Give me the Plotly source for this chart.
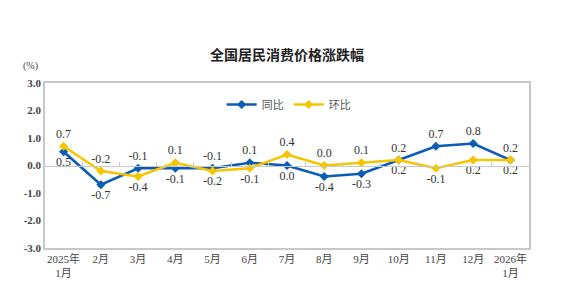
import plotly.graph_objects as go

categories = ["2025年<br>1月", "2月", "3月", "4月", "5月", "6月", "7月", "8月", "9月", "10月", "11月", "12月", "2026年<br>1月"]
yoy = [0.5, -0.7, -0.1, -0.1, -0.1, 0.1, 0.0, -0.4, -0.3, 0.2, 0.7, 0.8, 0.2]
mom = [0.7, -0.2, -0.4, 0.1, -0.2, -0.1, 0.4, 0.0, 0.1, 0.2, -0.1, 0.2, 0.2]
yticks = [3.0, 2.0, 1.0, 0.0, -1.0, -2.0, -3.0]

x = list(range(len(categories)))

def positions(a, b, a_wins_tie):
    out = []
    for va, vb in zip(a, b):
        if va > vb or (va == vb and a_wins_tie):
            out.append("top center")
        else:
            out.append("bottom center")
    return out

# Oct tie: yellow on top; Jan 2026 tie: blue on top
yoy_pos = positions(yoy, mom, False)
mom_pos = positions(mom, yoy, True)
yoy_pos[-1] = "top center"
mom_pos[-1] = "bottom center"

BLUE = "#0a5cb4"
YEL = "#f5c600"
TXT = "#333333"
SERIF = "Liberation Serif, Times New Roman, Noto Sans CJK SC, serif"

fig = go.Figure()
fig.add_trace(go.Scatter(
    x=x, y=yoy, name="同比", mode="lines+markers+text",
    line=dict(color=BLUE, width=2.6),
    marker=dict(symbol="diamond", size=7, color=BLUE),
    text=[f"{v:.1f}" for v in yoy], textposition=yoy_pos,
    textfont=dict(family=SERIF, size=12, color=TXT),
    cliponaxis=False,
))
fig.add_trace(go.Scatter(
    x=x, y=mom, name="环比", mode="lines+markers+text",
    line=dict(color=YEL, width=2.6),
    marker=dict(symbol="diamond", size=7, color=YEL),
    text=[f"{v:.1f}" for v in mom], textposition=mom_pos,
    textfont=dict(family=SERIF, size=12, color=TXT),
    cliponaxis=False,
))

fig.update_layout(
    width=574, height=303,
    margin=dict(l=45, r=45, t=83, b=55),
    paper_bgcolor="white", plot_bgcolor="white",
    showlegend=True,
    legend=dict(orientation="h", x=0.365, y=0.87, xanchor="left", yanchor="middle",
                font=dict(family="Noto Sans CJK SC", size=11, color="#555555"),
                bgcolor="rgba(0,0,0,0)", itemwidth=30, tracegroupgap=0),
    title=dict(text="<b>全国居民消费价格涨跌幅</b>", x=0.5, xanchor="center", y=1 - 55 / 303, yanchor="middle",
               font=dict(family="Noto Sans CJK SC", size=14, color="#222222")),
    xaxis=dict(range=[-0.5, len(categories) - 0.5], tickmode="array", tickvals=x, ticktext=categories,
               showgrid=False, zeroline=False, showline=True, linecolor="#c8c8c8", linewidth=1.5, mirror=True,
               ticks="", tickfont=dict(family=SERIF, size=11, color="#444444")),
    xaxis2=dict(overlaying="x", anchor="free", position=0.5, side="top",
                range=[-0.5, len(categories) - 0.5], tickmode="array",
                tickvals=[i + 0.5 for i in x[:-1]], showticklabels=False,
                ticks="outside", ticklen=4, tickcolor="#c8c8c8", tickwidth=1,
                showline=True, linecolor="#c8c8c8", linewidth=1, showgrid=False, zeroline=False),
    yaxis=dict(range=[-3, 3], tickmode="array", tickvals=yticks, ticktext=[f"<b>{v:.1f}</b>" for v in yticks],
               showgrid=False, zeroline=False, showline=True, linecolor="#c8c8c8", linewidth=1.5, mirror=True,
               ticks="", tickfont=dict(family=SERIF, size=11, color="#444444")),
    annotations=[dict(text="(%)", xref="paper", yref="paper", x=(40 - 45) / 484, y=(248 - 66) / 165,
                      xanchor="right", yanchor="middle", showarrow=False,
                      font=dict(family=SERIF, size=10, color="#444444"))],
)
# dummy invisible trace to activate xaxis2
fig.add_trace(go.Scatter(x=[0], y=[0], xaxis="x2", mode="markers", marker=dict(opacity=0),
                         showlegend=False, hoverinfo="skip"))

fig.write_html("out.html")
